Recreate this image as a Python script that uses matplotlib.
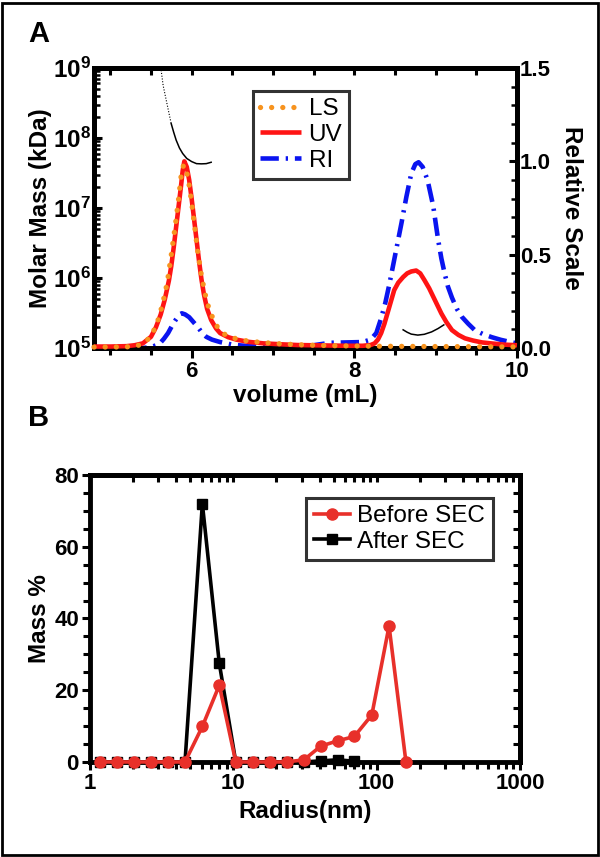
import math
import matplotlib
matplotlib.use("Agg")
import matplotlib.pyplot as plt
from matplotlib.ticker import MultipleLocator, FixedLocator, FuncFormatter, LogLocator, NullFormatter
from matplotlib.patches import Rectangle

# ---------------- Panel A data ----------------
uv_vol = [4.8, 5.0, 5.2, 5.3, 5.4, 5.5, 5.56, 5.62, 5.67, 5.72, 5.75, 5.78, 5.81, 5.84,
          5.87, 5.89, 5.91, 5.94, 5.97, 6.0, 6.03, 6.06, 6.09, 6.12, 6.15, 6.19, 6.24,
          6.3, 6.35, 6.45, 6.55, 6.7, 6.88, 7.1, 7.3, 7.6, 7.9, 8.1, 8.2, 8.25, 8.29,
          8.33, 8.37, 8.41, 8.45, 8.49, 8.54, 8.6, 8.65, 8.7, 8.76, 8.81, 8.86, 8.92,
          8.97, 9.02, 9.07, 9.13, 9.2, 9.28, 9.36, 9.46, 9.57, 9.7, 9.85, 10.0]
uv_rel = [0.008, 0.008, 0.01, 0.015, 0.025, 0.06, 0.11, 0.18, 0.26, 0.36, 0.44, 0.54, 0.65, 0.76,
          0.87, 0.95, 1.0, 0.97, 0.9, 0.8, 0.69, 0.58, 0.47, 0.37, 0.29, 0.21, 0.15,
          0.105, 0.08, 0.058, 0.045, 0.033, 0.025, 0.02, 0.016, 0.014, 0.012, 0.012, 0.016, 0.025, 0.045,
          0.08, 0.13, 0.19, 0.25, 0.31, 0.35, 0.38, 0.4, 0.41, 0.415, 0.4, 0.365, 0.32,
          0.275, 0.23, 0.185, 0.14, 0.096, 0.07, 0.052, 0.04, 0.03, 0.024, 0.018, 0.015]

ls_vol = [4.8, 5.2, 5.35, 5.45, 5.52, 5.58, 5.64, 5.7, 5.75, 5.8, 5.84, 5.87, 5.9, 5.93,
          5.96, 6.0, 6.04, 6.08, 6.12, 6.16, 6.2, 6.26, 6.32, 6.4, 6.5, 6.65, 6.85, 7.1,
          7.4, 7.8, 8.2, 9.0, 10.0]
ls_rel = [0.005, 0.006, 0.015, 0.04, 0.08, 0.14, 0.23, 0.35, 0.5, 0.66, 0.8, 0.92, 0.98, 0.96,
          0.9, 0.78, 0.64, 0.5, 0.39, 0.3, 0.23, 0.16, 0.11, 0.075, 0.055, 0.04, 0.03, 0.022,
          0.016, 0.012, 0.01, 0.008, 0.006]

ri_vol = [4.8, 5.4, 5.5, 5.6, 5.66, 5.71, 5.76, 5.81, 5.85, 5.88, 5.92, 5.97, 6.02, 6.08,
          6.13, 6.18, 6.25, 6.35, 6.5, 6.7, 7.0, 7.3, 7.5, 7.7, 7.9, 8.1, 8.2, 8.27, 8.33,
          8.38, 8.43, 8.48, 8.53, 8.58, 8.64, 8.7, 8.75, 8.79, 8.84, 8.9, 8.97, 9.03, 9.07,
          9.11, 9.15, 9.2, 9.26, 9.32, 9.4, 9.48, 9.58, 9.69, 9.8, 9.9, 10.0]
ri_rel = [0.0, 0.0, 0.005, 0.02, 0.05, 0.08, 0.12, 0.155, 0.18, 0.186, 0.18, 0.165, 0.14, 0.11,
          0.08, 0.06, 0.045, 0.032, 0.018, 0.01, 0.006, 0.008, 0.015, 0.028, 0.03, 0.032, 0.045, 0.08, 0.16,
          0.24, 0.34, 0.45, 0.56, 0.67, 0.81, 0.935, 0.985, 0.995, 0.97, 0.9, 0.76, 0.58, 0.48,
          0.4, 0.33, 0.27, 0.21, 0.168, 0.13, 0.096, 0.075, 0.058, 0.044, 0.034, 0.025]

mm1_vol = [5.625, 5.65, 5.687, 5.72, 5.749, 5.78, 5.81, 5.85, 5.89, 5.94, 6.0, 6.06, 6.12, 6.18, 6.24]
mm1_kda = [9.3e8, 5.6e8, 3.5e8, 2.3e8, 1.6e8, 1.2e8, 9.3e7, 7.2e7, 6.0e7, 5.1e7, 4.6e7, 4.3e7, 4.27e7, 4.3e7, 4.5e7]
mm2_vol = [8.6, 8.65, 8.7, 8.78, 8.86, 8.95, 9.03, 9.1]
mm2_kda = [1.82e5, 1.68e5, 1.58e5, 1.53e5, 1.57e5, 1.7e5, 1.9e5, 2.14e5]

# ---------------- Panel B data ----------------
radius_nm = [1.17, 1.55, 2.03, 2.65, 3.48, 4.6, 6.08, 7.98, 10.4, 13.7, 18.0, 23.6,
             31.1, 40.7, 53.5, 69.8, 92.5, 122, 160]
before_sec = [0, 0, 0, 0, 0, 0, 9.9, 21.4, 0, 0, 0, 0, 0.6, 4.4, 5.9, 7.1, 13.1, 37.9, 0]
radius_after = [1.17, 1.55, 2.03, 2.65, 3.48, 4.6, 6.08, 7.98, 10.4, 13.7, 18.0, 23.6,
                31.1, 40.7, 53.5, 69.8]
after_sec = [0, 0, 0, 0, 0, 0, 72, 27.5, 0, 0, 0, 0, 0, 0.3, 0.6, 0.2]

# ---------------- style ----------------
plt.rcParams['font.family'] = ['Liberation Sans', 'DejaVu Sans']
plt.rcParams['font.weight'] = 'bold'
plt.rcParams['axes.labelweight'] = 'bold'
plt.rcParams['mathtext.fontset'] = 'custom'
plt.rcParams['mathtext.rm'] = 'Liberation Sans:bold'
plt.rcParams['mathtext.bf'] = 'Liberation Sans:bold'
plt.rcParams['mathtext.it'] = 'Liberation Sans:bold'

SPW = 3.5
TICKFS = 16
LABFS = 17.5
LEGFS = 17.5

fig = plt.figure(figsize=(6, 8.57), dpi=100)
fig.patches.append(Rectangle((0.003, 0.002), 0.994, 0.995, transform=fig.transFigure,
                             fill=False, lw=2, ec='black'))

# ================= Panel A =================
axA = fig.add_axes([0.1567, 0.5939, 0.705, 0.3268])
axA.set_yscale('log')
axA.set_xlim(4.8, 10)
axA.set_ylim(1e5, 1e9)
axA.plot(mm1_vol[:5], mm1_kda[:5], color='black', lw=0.8, ls=(0, (1, 1.5)))
axA.plot(mm1_vol[4:], mm1_kda[4:], color='black', lw=1.1)
axA.plot(mm2_vol, mm2_kda, color='black', lw=1.1)

axA.xaxis.set_major_locator(FixedLocator([6, 8, 10]))
axA.xaxis.set_minor_locator(MultipleLocator(0.5))
axA.tick_params(axis='x', which='major', direction='out', length=7, width=2.2,
                labelsize=TICKFS, top=False, pad=2)
axA.tick_params(axis='x', which='minor', direction='out', length=5, width=2.2, top=False)
axA.yaxis.set_major_locator(LogLocator(base=10, numticks=10))
axA.yaxis.set_minor_locator(LogLocator(base=10, subs=range(2, 10), numticks=10))
axA.yaxis.set_minor_formatter(NullFormatter())
axA.yaxis.set_major_formatter(FuncFormatter(lambda v, p: r'$\mathbf{10^{%d}}$' % round(math.log10(v))))
axA.tick_params(axis='y', which='major', direction='in', length=6, width=2.2,
                labelsize=17.5, right=False, pad=2)
axA.tick_params(axis='y', which='minor', direction='in', length=4, width=1.8, right=False)
for s in axA.spines.values():
    s.set_linewidth(SPW)

axA2 = axA.twinx()
axA2.set_ylim(0, 1.5)
l_uv, = axA2.plot(uv_vol, uv_rel, color='#FF1414', lw=3.3, label='UV', zorder=3, clip_on=False,
                  solid_capstyle='butt')
l_ri, = axA2.plot(ri_vol, ri_rel, color='#0A14F0', lw=3.3, ls=(0, (4.0, 1.5, 0.5, 1.5)),
                  label='RI', zorder=2, clip_on=False)
l_ls, = axA2.plot(ls_vol, ls_rel, color='#F7931E', lw=3.8, ls=(0, (0.01, 2.1)),
                  dash_capstyle='round', label='LS', zorder=4, clip_on=False)
axA2.yaxis.set_major_locator(MultipleLocator(0.5))
axA2.yaxis.set_minor_locator(MultipleLocator(0.1))
axA2.yaxis.set_major_formatter(FuncFormatter(lambda v, p: '%.1f' % v))
axA2.tick_params(axis='y', which='major', direction='in', length=6, width=2.2,
                 labelsize=TICKFS, pad=2)
axA2.tick_params(axis='y', which='minor', direction='in', length=4, width=1.8)
for s in axA2.spines.values():
    s.set_linewidth(SPW)

secA = axA.secondary_xaxis('top')
secA.xaxis.set_major_locator(MultipleLocator(0.5))
secA.xaxis.set_major_formatter(NullFormatter())
secA.tick_params(axis='x', direction='in', length=5, width=2.2)
for s in secA.spines.values():
    s.set_linewidth(SPW)

axA.set_xlabel('volume (mL)', fontsize=LABFS, labelpad=2)
axA.set_ylabel('Molar Mass (kDa)', fontsize=LABFS, labelpad=1)
axA2.set_ylabel('Relative Scale', fontsize=LABFS, rotation=270, labelpad=23)

legA = axA2.legend(handles=[l_ls, l_uv, l_ri], loc='upper left', bbox_to_anchor=(0.375, 0.918),
                   prop={'weight': 'normal', 'size': LEGFS}, frameon=True, fancybox=False,
                   edgecolor='black', handlelength=1.7, handletextpad=0.3, borderpad=0.3,
                   labelspacing=0.15, borderaxespad=0)
legA.get_frame().set_linewidth(2.2)

fig.text(0.047, 0.960, 'A', fontsize=21, fontweight='bold', va='center', ha='left')

# ================= Panel B =================
axB = fig.add_axes([0.15, 0.1109, 0.7167, 0.3348])
axB.set_xscale('log')
axB.set_xlim(1, 1000)
axB.set_ylim(0, 80)
l_after, = axB.plot(radius_after, after_sec, color='black', marker='s', ms=6.5, lw=2.6,
                    label='After SEC', clip_on=False, zorder=3)
l_before, = axB.plot(radius_nm, before_sec, color='#E8302A', marker='o', ms=8, lw=2.6,
                     label='Before SEC', clip_on=False, zorder=4)

axB.xaxis.set_major_locator(LogLocator(base=10, numticks=10))
axB.xaxis.set_minor_locator(LogLocator(base=10, subs=range(2, 10), numticks=10))
axB.xaxis.set_minor_formatter(NullFormatter())
axB.xaxis.set_major_formatter(FuncFormatter(lambda v, p: '%g' % v))
axB.yaxis.set_major_locator(MultipleLocator(20))
axB.yaxis.set_minor_locator(MultipleLocator(5))
axB.tick_params(axis='both', which='major', direction='out', length=6, width=2.2,
                labelsize=TICKFS, top=False, right=False, pad=2)
axB.tick_params(axis='both', which='minor', direction='out', length=5, width=2.2,
                top=False, right=False)
for s in axB.spines.values():
    s.set_linewidth(SPW)

secBx = axB.secondary_xaxis('top')
secBx.xaxis.set_major_locator(LogLocator(base=10, numticks=10))
secBx.xaxis.set_minor_locator(LogLocator(base=10, subs=range(2, 10), numticks=10))
secBx.xaxis.set_major_formatter(NullFormatter())
secBx.xaxis.set_minor_formatter(NullFormatter())
secBx.tick_params(axis='x', which='both', direction='in', length=5, width=2.2)
secBy = axB.secondary_yaxis('right')
secBy.yaxis.set_major_locator(MultipleLocator(5))
secBy.yaxis.set_major_formatter(NullFormatter())
secBy.tick_params(axis='y', direction='in', length=5, width=2.2)
for sec in (secBx, secBy):
    for s in sec.spines.values():
        s.set_linewidth(SPW)

axB.set_xlabel('Radius(nm)', fontsize=LABFS, labelpad=4)
axB.set_ylabel('Mass %', fontsize=LABFS, labelpad=2)

legB = axB.legend(handles=[l_before, l_after], loc='upper left', bbox_to_anchor=(0.503, 0.92),
                  prop={'weight': 'normal', 'size': LEGFS}, frameon=True, fancybox=False,
                  edgecolor='black', handlelength=1.5, handletextpad=0.3, borderpad=0.3,
                  labelspacing=0.15, borderaxespad=0)
legB.get_frame().set_linewidth(2.2)

fig.text(0.047, 0.512, 'B', fontsize=21, fontweight='bold', va='center', ha='left')

fig.savefig('out.png', dpi=100)
